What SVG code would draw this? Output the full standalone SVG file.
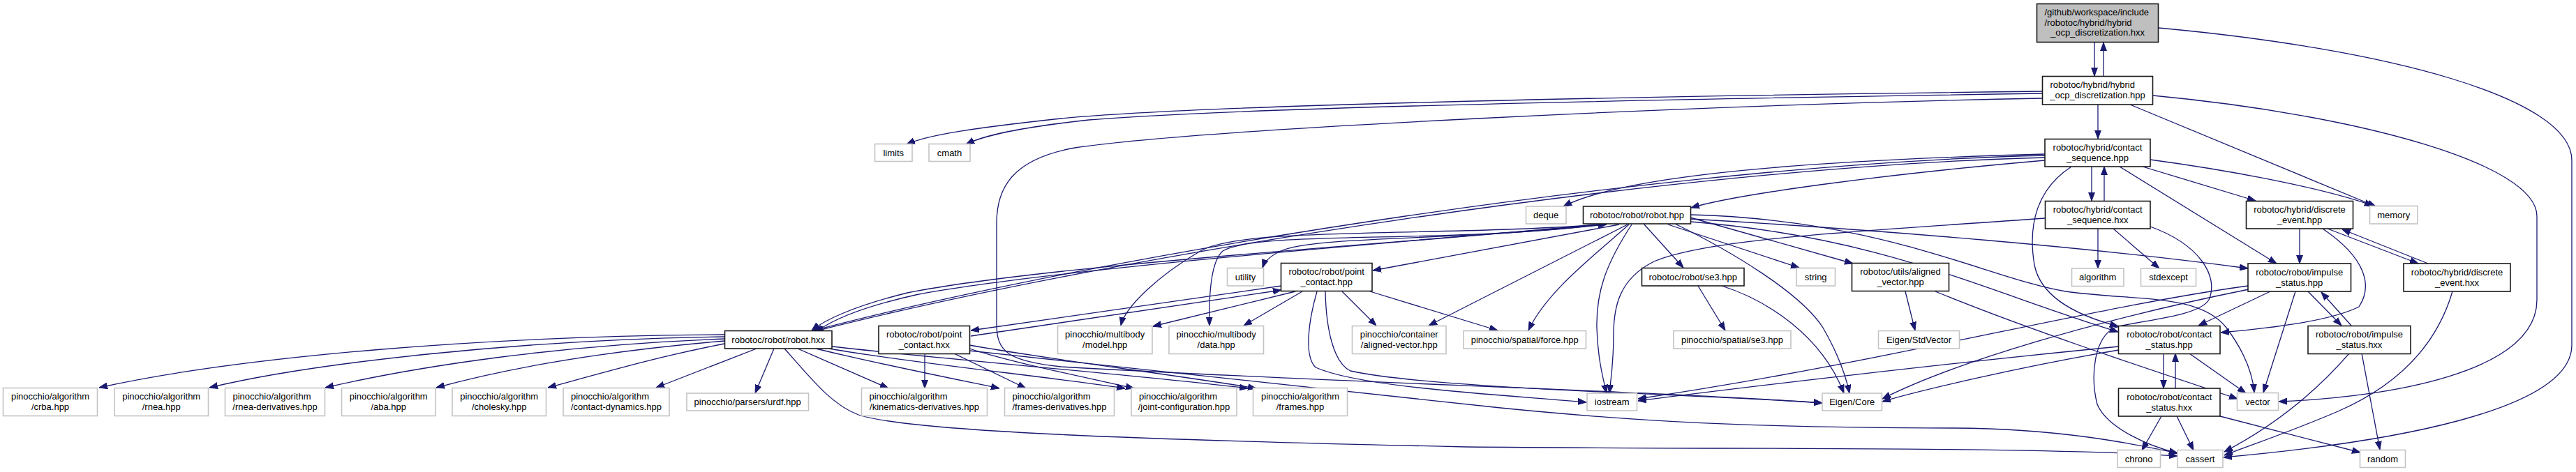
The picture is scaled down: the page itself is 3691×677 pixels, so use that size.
<svg xmlns="http://www.w3.org/2000/svg" width="3691" height="677" viewBox="0 0 3691 677">
<style>
text{font-family:"Liberation Sans",Arial,Helvetica,sans-serif;font-size:13px;fill:#000}
.c{text-anchor:middle}
.d rect{fill:#fff;stroke:#1a1a1a;stroke-width:1.6}
.x rect{fill:#fff;stroke:#c4c4c4;stroke-width:1.6}
.r rect{fill:#bfbfbf;stroke:#1a1a1a;stroke-width:1.6}
#edges path{fill:none;stroke:#191970;stroke-width:1.3;marker-end:url(#a)}
</style>
<defs>
<marker id="a" markerUnits="userSpaceOnUse" markerWidth="12" markerHeight="10" refX="12" refY="5" orient="auto" viewBox="0 0 12 10">
<path d="M0,0.6 L12,5 L0,9.4 z" fill="#191970" stroke="#191970" stroke-width="1"/>
</marker>
</defs>
<rect width="3691" height="677" fill="#fff"/>
<g id="edges">
<path d="M3001,61 C3001,75 3001,92 3001,109"/>
<path d="M3014,109 C3014,95 3014,78 3014,61"/>
<path d="M3093,40 C3420,70 3685,140 3685,230 L3685,495 C3685,590 3420,635 3186,656"/>
<path d="M3085,137 C3380,165 3635,235 3635,310 L3635,430 C3635,535 3420,570 3265,576"/>
<path d="M3052,150 L3404,296"/>
<path d="M2926,131 C2400,137 1720,150 1520,170 C1400,183 1330,193 1299,207"/>
<path d="M2926,134 C2400,142 1760,155 1560,172 C1460,183 1410,194 1384,207"/>
<path d="M2926,141 C2450,150 1720,185 1540,212 C1450,228 1428,270 1428,320 L1428,465 C1428,505 1445,518 1520,526 C1900,548 2350,560 2611,578"/>
<path d="M3006,150 L3006,199"/>
<path d="M2997,239 L2997,288"/>
<path d="M3015,288 L3015,239"/>
<path d="M2930,221 C2600,230 2330,250 2240,296"/>
<path d="M2930,230 C2700,250 2490,278 2423,298"/>
<path d="M3081,229 C3200,245 3330,270 3400,295"/>
<path d="M3070,239 L3232,288"/>
<path d="M3037,239 L3262,378"/>
<path d="M2968,239 C2920,270 2905,320 2915,380 C2925,430 2985,455 3035,468"/>
<path d="M2930,223 C2400,235 1600,360 1166,474"/>
<path d="M2930,226 C2400,239 1600,365 1168,475"/>
<path d="M2290,322 C2000,350 1500,380 1300,420 C1220,440 1180,460 1163,474"/>
<path d="M1172,474 C1192,460 1232,441 1312,423 C1500,387 2000,347 2302,322"/>
<path d="M2300,322 C2100,345 1900,338 1840,358 C1820,366 1812,375 1809,384"/>
<path d="M2320,322 L1967,388"/>
<path d="M2292,322 C2080,350 1800,330 1752,360 C1735,375 1732,420 1733,467"/>
<path d="M2295,322 C2050,340 1780,325 1720,360 C1660,395 1612,440 1606,467"/>
<path d="M2332,322 L2047,467"/>
<path d="M2334,322 C2280,370 2215,420 2190,474"/>
<path d="M2338,322 C2300,380 2287,420 2288,470 C2289,510 2296,540 2302,564"/>
<path d="M2356,322 L2412,384"/>
<path d="M2390,322 L2578,384"/>
<path d="M2422,312 L2655,378"/>
<path d="M2400,321 C2480,360 2580,420 2612,470 C2635,510 2645,540 2650,564"/>
<path d="M2422,314 C2700,330 3000,355 3221,385"/>
<path d="M2422,318 C2700,340 2850,420 3035,476"/>
<path d="M2422,308 C2700,315 2850,400 2960,418 C3060,432 3150,420 3190,470 C3220,510 3228,540 3230,563"/>
<path d="M2433,410 L2472,474"/>
<path d="M2467,410 C2530,430 2610,480 2642,564"/>
<path d="M2730,418 L2744,474"/>
<path d="M2773,418 C2900,470 3050,520 3206,572"/>
<path d="M3006,328 L3006,385"/>
<path d="M3028,328 L3094,385"/>
<path d="M3081,325 C3150,350 3180,395 3165,430 C3150,455 3060,460 3030,470 C3000,485 2995,540 3005,580 C3020,615 3080,640 3120,650"/>
<path d="M2930,313 C2700,330 2450,340 2370,375 C2320,400 2312,440 2312,480 C2312,520 2308,545 2306,564"/>
<path d="M3036,497 C2800,520 2500,555 2347,575"/>
<path d="M3221,410 C3000,440 2700,520 2347,572"/>
<path d="M3036,502 C2900,525 2750,560 2697,576"/>
<path d="M3222,415 C3000,460 2800,520 2697,572"/>
<path d="M3253,418 L3150,467"/>
<path d="M3307,418 L3355,467"/>
<path d="M3369,467 L3326,419"/>
<path d="M3289,418 L3243,563"/>
<path d="M3295,328 L3295,378"/>
<path d="M3328,328 C3390,370 3400,410 3380,440 C3340,460 3260,470 3182,477"/>
<path d="M3335,328 L3465,378"/>
<path d="M3479,378 L3356,329"/>
<path d="M3514,418 C3490,500 3430,555 3350,590 C3280,620 3220,640 3187,653"/>
<path d="M3366,507 C3320,560 3260,610 3187,648"/>
<path d="M3384,507 L3410,645"/>
<path d="M3100,507 L3100,557"/>
<path d="M3117,557 L3117,507"/>
<path d="M3137,507 L3218,564"/>
<path d="M3097,597 L3069,646"/>
<path d="M3119,597 L3143,646"/>
<path d="M3181,597 L3382,649"/>
<path d="M1856,418 L1652,468"/>
<path d="M1866,418 L1782,467"/>
<path d="M1923,418 L1972,467"/>
<path d="M1963,418 L2146,474"/>
<path d="M1887,418 C1875,460 1868,510 1885,527 C1950,556 2150,566 2273,577"/>
<path d="M1899,418 C1900,470 1910,520 1935,532 C2050,558 2450,566 2611,578"/>
<path d="M1836,410 L1391,474"/>
<path d="M1391,482 L1836,416"/>
<path d="M1325,507 L1325,557"/>
<path d="M1367,507 L1470,557"/>
<path d="M1389,500 C1450,520 1550,540 1625,557"/>
<path d="M1389,495 C1500,515 1700,540 1800,557"/>
<path d="M1389,503 C1700,535 1950,565 2150,585 C2350,605 2500,613 2800,614 C2950,615 3050,635 3120,650"/>
<path d="M1038,480 C700,482 350,510 142,556"/>
<path d="M1038,483 C750,487 450,520 300,556"/>
<path d="M1038,486 C800,495 600,525 466,556"/>
<path d="M1038,489 C850,505 720,530 625,556"/>
<path d="M1038,493 C950,510 880,530 785,556"/>
<path d="M1084,500 L940,556"/>
<path d="M1109,500 L1082,564"/>
<path d="M1143,500 L1273,557"/>
<path d="M1169,500 C1250,520 1350,540 1432,557"/>
<path d="M1188,500 C1300,520 1500,540 1612,557"/>
<path d="M1192,497 C1350,515 1650,540 1788,557"/>
<path d="M1124,500 C1160,540 1190,580 1230,595 C1300,618 1600,630 2100,641 C2500,645 2900,640 3120,654"/>
</g>
<g id="n_root" class="r"><rect x="2918.5" y="5.5" width="174" height="55"/><text x="2929.5" y="22">/github/workspace/include</text><text x="2929.5" y="36.5">/robotoc/hybrid/hybrid</text><text class="c" x="3005.5" y="51">_ocp_discretization.hxx</text></g>
<g id="n_hocp" class="d"><rect x="2926.5" y="109.5" width="158" height="40.5"/><text x="2937.5" y="126">robotoc/hybrid/hybrid</text><text class="c" x="3005.5" y="141">_ocp_discretization.hpp</text></g>
<g id="n_limits" class="x"><rect x="1253.5" y="206.5" width="53.5" height="25"/><text class="c" x="1280.2" y="223.5">limits</text></g>
<g id="n_cmath" class="x"><rect x="1331" y="206.5" width="59" height="25"/><text class="c" x="1360.5" y="223.5">cmath</text></g>
<g id="n_cs_hpp" class="d"><rect x="2930" y="199.5" width="151" height="39.5"/><text class="c" x="3005.5" y="216">robotoc/hybrid/contact</text><text class="c" x="3005.5" y="231">_sequence.hpp</text></g>
<g id="n_memory" class="x"><rect x="3395.5" y="295.5" width="68.5" height="25.5"/><text class="c" x="3429.7" y="312.5">memory</text></g>
<g id="n_deque" class="x"><rect x="2186.5" y="296" width="57.5" height="25"/><text class="c" x="2215.2" y="313">deque</text></g>
<g id="n_robot_hpp" class="d"><rect x="2268.5" y="296" width="154" height="25"/><text class="c" x="2345.5" y="313">robotoc/robot/robot.hpp</text></g>
<g id="n_cs_hxx" class="d"><rect x="2930.5" y="288.5" width="150.5" height="39.5"/><text class="c" x="3005.7" y="305">robotoc/hybrid/contact</text><text class="c" x="3005.7" y="320">_sequence.hxx</text></g>
<g id="n_de_hpp" class="d"><rect x="3218.5" y="288.5" width="153" height="39.5"/><text class="c" x="3295" y="305">robotoc/hybrid/discrete</text><text class="c" x="3295" y="320">_event.hpp</text></g>
<g id="n_utility" class="x"><rect x="1758.5" y="384.5" width="52" height="25.5"/><text class="c" x="1784.5" y="401.5">utility</text></g>
<g id="n_pc_hpp" class="d"><rect x="1835.5" y="377.5" width="130.5" height="40"/><text class="c" x="1900.7" y="394">robotoc/robot/point</text><text class="c" x="1900.7" y="409">_contact.hpp</text></g>
<g id="n_se3_hpp" class="d"><rect x="2352.5" y="384.5" width="146.5" height="25.5"/><text class="c" x="2425.7" y="401.5">robotoc/robot/se3.hpp</text></g>
<g id="n_string" class="x"><rect x="2574" y="384.5" width="55.5" height="25.5"/><text class="c" x="2601.7" y="401.5">string</text></g>
<g id="n_av_hpp" class="d"><rect x="2653.5" y="377.5" width="139" height="40"/><text class="c" x="2723" y="394">robotoc/utils/aligned</text><text class="c" x="2723" y="409">_vector.hpp</text></g>
<g id="n_algorithm" class="x"><rect x="2968.5" y="385" width="74.5" height="25.5"/><text class="c" x="3005.7" y="402">algorithm</text></g>
<g id="n_stdexcept" class="x"><rect x="3067.5" y="385" width="79" height="25.5"/><text class="c" x="3107" y="402">stdexcept</text></g>
<g id="n_is_hpp" class="d"><rect x="3221" y="378" width="147.5" height="40"/><text class="c" x="3294.7" y="394.5">robotoc/robot/impulse</text><text class="c" x="3294.7" y="409.5">_status.hpp</text></g>
<g id="n_de_hxx" class="d"><rect x="3444" y="378" width="153" height="40"/><text class="c" x="3520.5" y="394.5">robotoc/hybrid/discrete</text><text class="c" x="3520.5" y="409.5">_event.hxx</text></g>
<g id="n_robot_hxx" class="d"><rect x="1038.5" y="474.5" width="153.5" height="25.5"/><text class="c" x="1115.2" y="491.5">robotoc/robot/robot.hxx</text></g>
<g id="n_pc_hxx" class="d"><rect x="1259" y="467.5" width="130.5" height="40"/><text class="c" x="1324.2" y="484">robotoc/robot/point</text><text class="c" x="1324.2" y="499">_contact.hxx</text></g>
<g id="n_model" class="x"><rect x="1515.5" y="467.5" width="135.5" height="40"/><text class="c" x="1583.2" y="484">pinocchio/multibody</text><text class="c" x="1583.2" y="499">/model.hpp</text></g>
<g id="n_data" class="x"><rect x="1675" y="467.5" width="135.5" height="40"/><text class="c" x="1742.7" y="484">pinocchio/multibody</text><text class="c" x="1742.7" y="499">/data.hpp</text></g>
<g id="n_avec" class="x"><rect x="1937.5" y="467.5" width="134.5" height="40"/><text class="c" x="2004.7" y="484">pinocchio/container</text><text class="c" x="2004.7" y="499">/aligned-vector.hpp</text></g>
<g id="n_force" class="x"><rect x="2097" y="474.5" width="175.5" height="25.5"/><text class="c" x="2184.7" y="491.5">pinocchio/spatial/force.hpp</text></g>
<g id="n_pse3" class="x"><rect x="2398" y="474.5" width="168" height="25.5"/><text class="c" x="2482" y="491.5">pinocchio/spatial/se3.hpp</text></g>
<g id="n_stdvec" class="x"><rect x="2691.5" y="474.5" width="116" height="25.5"/><text class="c" x="2749.5" y="491.5">Eigen/StdVector</text></g>
<g id="n_cst_hpp" class="d"><rect x="3035.5" y="467.5" width="145.5" height="40"/><text class="c" x="3108.2" y="484">robotoc/robot/contact</text><text class="c" x="3108.2" y="499">_status.hpp</text></g>
<g id="n_is_hxx" class="d"><rect x="3307" y="467.5" width="147" height="40"/><text class="c" x="3380.5" y="484">robotoc/robot/impulse</text><text class="c" x="3380.5" y="499">_status.hxx</text></g>
<g id="n_crba" class="x"><rect x="4.5" y="556.5" width="135" height="40"/><text class="c" x="72" y="573">pinocchio/algorithm</text><text class="c" x="72" y="588">/crba.hpp</text></g>
<g id="n_rnea" class="x"><rect x="164" y="556.5" width="134.5" height="40"/><text class="c" x="231.2" y="573">pinocchio/algorithm</text><text class="c" x="231.2" y="588">/rnea.hpp</text></g>
<g id="n_rnea_der" class="x"><rect x="322.5" y="556.5" width="143" height="40"/><text x="333.5" y="573">pinocchio/algorithm</text><text class="c" x="394" y="588">/rnea-derivatives.hpp</text></g>
<g id="n_aba" class="x"><rect x="489.5" y="556.5" width="134.5" height="40"/><text class="c" x="556.7" y="573">pinocchio/algorithm</text><text class="c" x="556.7" y="588">/aba.hpp</text></g>
<g id="n_cholesky" class="x"><rect x="648" y="556.5" width="134.5" height="40"/><text class="c" x="715.2" y="573">pinocchio/algorithm</text><text class="c" x="715.2" y="588">/cholesky.hpp</text></g>
<g id="n_cdyn" class="x"><rect x="807" y="556.5" width="152" height="40"/><text x="818" y="573">pinocchio/algorithm</text><text class="c" x="883" y="588">/contact-dynamics.hpp</text></g>
<g id="n_urdf" class="x"><rect x="984" y="564" width="174.5" height="25"/><text class="c" x="1071.2" y="581">pinocchio/parsers/urdf.hpp</text></g>
<g id="n_kin_der" class="x"><rect x="1234.5" y="556.5" width="180" height="40"/><text x="1245.5" y="573">pinocchio/algorithm</text><text class="c" x="1324.5" y="588">/kinematics-derivatives.hpp</text></g>
<g id="n_fr_der" class="x"><rect x="1439.5" y="556.5" width="157" height="40"/><text x="1450.5" y="573">pinocchio/algorithm</text><text class="c" x="1518" y="588">/frames-derivatives.hpp</text></g>
<g id="n_jconf" class="x"><rect x="1621" y="556.5" width="151" height="40"/><text x="1632" y="573">pinocchio/algorithm</text><text class="c" x="1696.5" y="588">/joint-configuration.hpp</text></g>
<g id="n_frames" class="x"><rect x="1795.5" y="556.5" width="135" height="40"/><text class="c" x="1863" y="573">pinocchio/algorithm</text><text class="c" x="1863" y="588">/frames.hpp</text></g>
<g id="n_iostream" class="x"><rect x="2274" y="564" width="71.5" height="25"/><text class="c" x="2309.7" y="581">iostream</text></g>
<g id="n_eigen_core" class="x"><rect x="2611" y="564" width="85.5" height="25"/><text class="c" x="2653.7" y="581">Eigen/Core</text></g>
<g id="n_cst_hxx" class="d"><rect x="3035.5" y="557" width="145.5" height="40"/><text class="c" x="3108.2" y="573.5">robotoc/robot/contact</text><text class="c" x="3108.2" y="588.5">_status.hxx</text></g>
<g id="n_vector" class="x"><rect x="3205.5" y="563.5" width="59" height="25"/><text class="c" x="3235" y="580.5">vector</text></g>
<g id="n_chrono" class="x"><rect x="3034" y="645.5" width="61.5" height="25"/><text class="c" x="3064.7" y="662.5">chrono</text></g>
<g id="n_cassert" class="x"><rect x="3120" y="645.5" width="65" height="25"/><text class="c" x="3152.5" y="662.5">cassert</text></g>
<g id="n_random" class="x"><rect x="3381.5" y="645.5" width="65" height="25"/><text class="c" x="3414" y="662.5">random</text></g>
</svg>
